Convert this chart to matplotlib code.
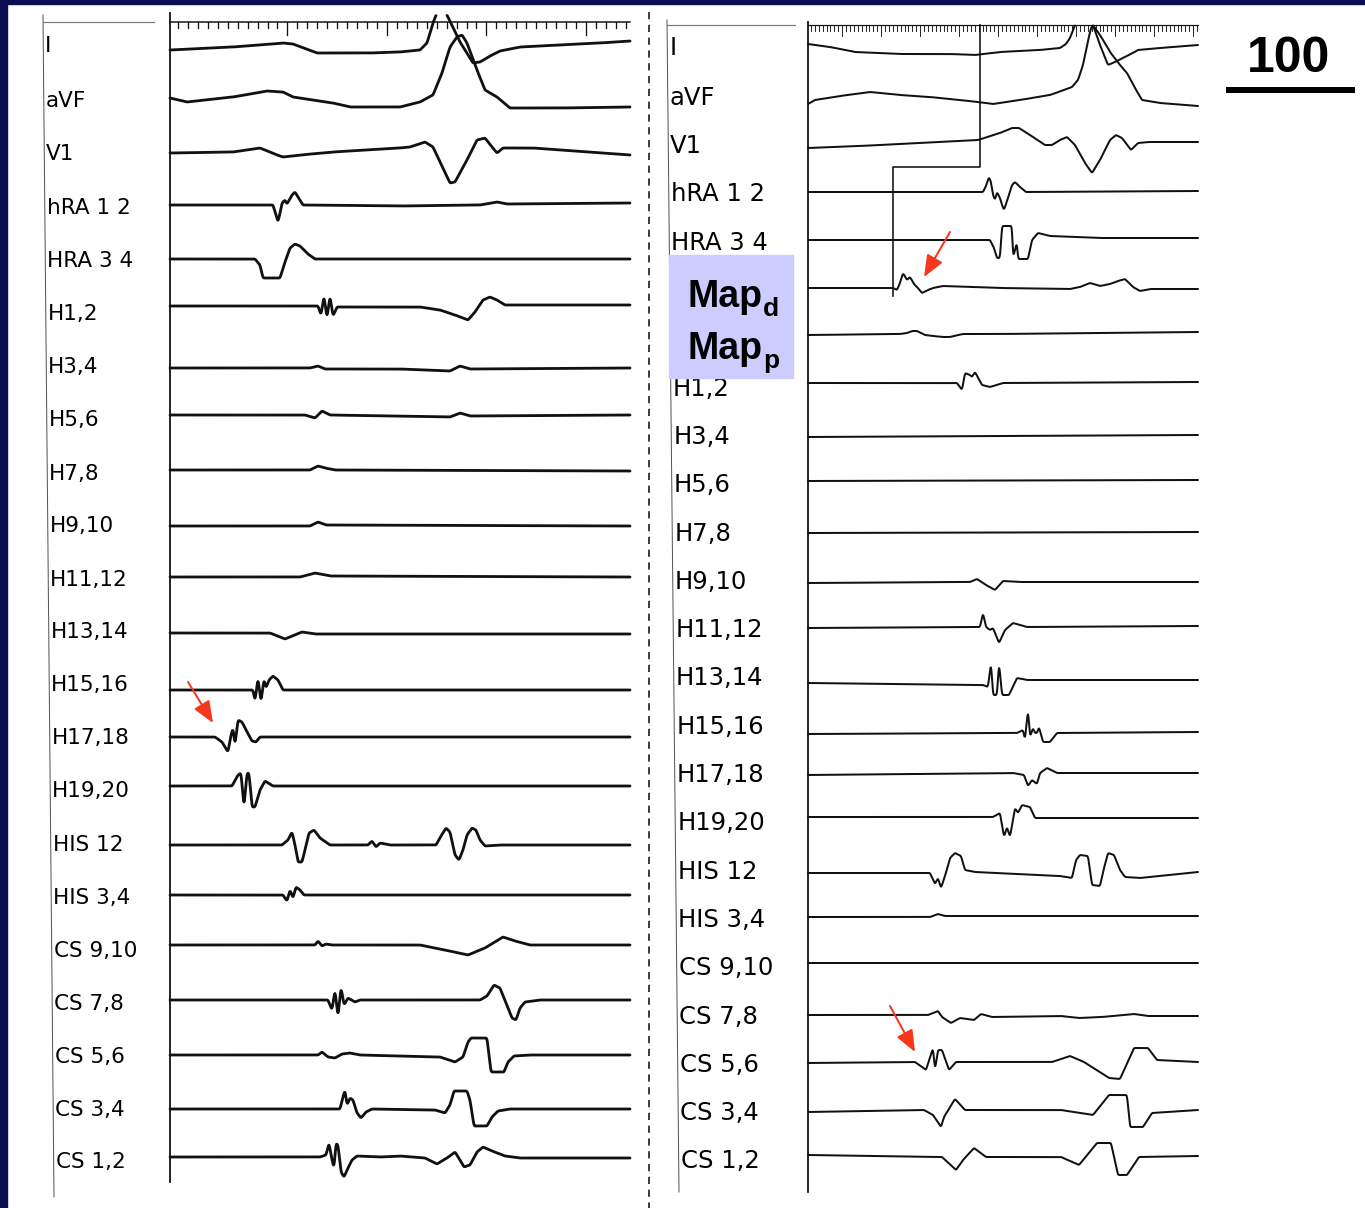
import numpy as np
import matplotlib.pyplot as plt
from matplotlib.patches import Rectangle

# two intracardiac recordings side by side (left: before, right: after)
GAP = (np.nan, np.nan)

leftLabels = ["I", "aVF", "V1", "hRA 1 2", "HRA 3 4", "H1,2", "H3,4", "H5,6", "H7,8", "H9,10",
              "H11,12", "H13,14", "H15,16", "H17,18", "H19,20", "HIS 12", "HIS 3,4",
              "CS 9,10", "CS 7,8", "CS 5,6", "CS 3,4", "CS 1,2"]

L_I = [(0, 0), (63, 3), (113, 7), (123, 6), (147, -3), (200, -3), (230, -2), (250, 0), (257, 7), (263, 27), (266, 35), GAP,
       (277, 35), (290, 8), (303, -13), (310, -12), (320, -6), (330, -1), (350, 3), (390, 5), (430, 7), (460, 9)]
L_aVF = [(0, 2), (17, -2), (63, 3), (97, 9), (113, 8), (123, 3), (163, -3), (180, -7), (230, -7), (250, -2), (263, 5),
         (272, 27), (280, 53), (287, 63), (292, 65), (297, 57), (307, 30), (315, 10), (327, 3), (340, -8), (390, -8), (460, -7)]
L_V1 = [(0, 0), (63, 1), (90, 5), (107, -2), (113, -4), (130, -2), (163, 1), (230, 5), (240, 6), (255, 11), (263, 6),
        (280, -30), (285, -29), (297, -7), (307, 13), (315, 15), (322, 6), (327, 0), (333, 5), (363, 5), (460, -2)]
L_hRA12 = [(103, 0), (106, -10), (108, -17), (110, -8), (112, 2), (115, 5), (117, 1), (122, 10), (125, 13), (128, 8),
           (133, 0), (230, -1), (310, 0), (327, 3), (337, 1), (460, 2)]
L_HRA34 = [(85, 0), (90, -6), (93, -19), (110, -19), (115, -3), (120, 11), (125, 15), (130, 13), (138, 5), (145, 0)]
L_H12 = [(148, -1), (151, -10), (154, 9), (157, -13), (160, 9), (163, -11), (167, -2), (175, -2), (250, -2), (270, -5),
         (285, -10), (298, -15), (305, -7), (313, 5), (320, 8), (327, 5), (335, 0)]
L_H34 = [(140, 0), (148, 2), (155, -1), (230, -1), (280, -3), (290, 2), (300, -1), (460, 0)]
L_H56 = [(135, 0), (145, -3), (152, 4), (160, 0), (280, -2), (290, 2), (300, -1), (460, 0)]
L_H78 = [(140, 0), (148, 4), (155, 2), (165, 0), (460, -1)]
L_H910 = [(140, 0), (148, 4), (156, 1), (460, 0)]
L_H1112 = [(130, 0), (145, 4), (160, 1), (460, 0)]
L_H1314 = [(100, 0), (110, -4), (115, -6), (122, -3), (132, 1), (145, -1)]
L_H1516 = [(83, 0), (85, -11), (88, 12), (91, -12), (94, 11), (96, 2), (99, 10), (103, 14), (108, 10), (113, 0)]
L_H1718 = [(45, 0), (52, -5), (58, -15), (61, 2), (63, 9), (65, -8), (68, 17), (72, 15), (76, 7), (82, -4), (86, -5), (90, 0)]
L_H1920 = [(62, 0), (68, 11), (71, 13), (74, -21), (77, 13), (79, 13), (82, -21), (85, -21), (90, -4), (95, 5), (103, 0)]
L_HIS12 = [(112, 0), (118, 5), (122, 13), (125, 0), (128, -17), (132, -17), (135, -5), (139, 12), (144, 15), (150, 7),
           (160, 0), (198, 0), (202, 4), (206, -2), (210, 2), (220, 0), (266, 0), (271, 9), (276, 17), (280, 13),
           (285, -10), (289, -15), (293, -5), (297, 10), (302, 17), (306, 15), (310, 5), (315, -1), (330, 0)]
L_HIS34 = [(113, 0), (117, -6), (120, 5), (123, -3), (126, 8), (130, 5), (134, 0)]
L_CS910 = [(145, 0), (148, 4), (152, -1), (156, 1), (162, 0), (250, 0), (275, -5), (298, -10), (315, -3), (333, 8),
           (345, 4), (360, 0)]
L_CS78 = [(158, 0), (162, -10), (165, 10), (168, -17), (171, 13), (174, -5), (178, 2), (185, -2), (190, 0), (310, 0),
          (317, 4), (324, 15), (330, 12), (336, -3), (342, -18), (346, -20), (350, -8), (355, -2), (370, 0)]
L_CS56 = [(148, 0), (152, 3), (158, -2), (165, -3), (172, 1), (180, 2), (190, 0), (270, -2), (285, -7), (293, -2),
          (298, 13), (301, 17), (317, 17), (321, -17), (334, -17), (338, -7), (344, -1), (360, 0)]
L_CS34 = [(170, 0), (173, 12), (175, 19), (177, 4), (180, 11), (183, 9), (187, -4), (191, -9), (196, -3), (202, 0),
          (265, -1), (275, -4), (280, 4), (284, 18), (297, 18), (300, 9), (304, -17), (317, -17), (322, -8), (328, -2),
          (340, 0)]
L_CS12 = [(150, 1), (156, 3), (159, 15), (162, -2), (164, -10), (166, 15), (168, 13), (171, -14), (174, -19), (178, -10),
          (182, -2), (187, 2), (210, 1), (230, 2), (255, 0), (267, -6), (277, 0), (285, 6), (290, -2), (294, -9),
          (300, -7), (307, 6), (313, 11), (322, 7), (335, 2), (350, 0)]

leftTraces = [L_I, L_aVF, L_V1, L_hRA12, L_HRA34, L_H12, L_H34, L_H56, L_H78, L_H910, L_H1112, L_H1314,
              L_H1516, L_H1718, L_H1920, L_HIS12, L_HIS34, L_CS910, L_CS78, L_CS56, L_CS34, L_CS12]

rightLabels = ["I", "aVF", "V1", "hRA 1 2", "HRA 3 4", "H1,2", "H3,4", "H5,6", "H7,8", "H9,10",
               "H11,12", "H13,14", "H15,16", "H17,18", "H19,20", "HIS 12", "HIS 3,4",
               "CS 9,10", "CS 7,8", "CS 5,6", "CS 3,4", "CS 1,2"]

R_I = [(0, 6), (22, 3), (47, -2), (92, -4), (142, -4), (167, -5), (192, -2), (232, 0), (252, 2), (258, 6), (262, 12),
       (267, 25), GAP, (285, 25), (292, 5), (300, -15), (307, -12), (317, -7), (330, 0), (352, 2), (390, 5)]
R_aVF = [(0, -4), (7, 0), (32, 4), (62, 8), (92, 5), (122, 3), (152, 0), (170, -2), (185, -4), (212, 0), (242, 5),
         (256, 10), (264, 13), (270, 20), (275, 35), (279, 55), (283, 72), (285, 75), (292, 65), (302, 48), (312, 35),
         (319, 27), (327, 12), (334, 0), (352, -3), (390, -6)]
R_V1 = [(0, -3), (52, -1), (112, 2), (170, 5), (192, 12), (204, 17), (211, 17), (222, 10), (237, 0), (244, 0), (252, 5),
        (259, 8), (267, 0), (277, -18), (284, -28), (292, -15), (302, 5), (308, 10), (314, 7), (323, -5), (330, 2),
        (341, 3), (390, 3)]
R_hRA12 = [(175, -1), (178, 5), (181, 14), (183, 9), (185, -4), (187, -9), (189, -1), (192, -7), (194, -14), (196, -19),
           (200, -7), (204, 6), (207, 9), (212, 4), (218, -1), (390, 0)]
R_HRA34 = [(0, -1), (182, -1), (186, -9), (189, -19), (192, -19), (194, 13), (204, 13), (205, -19), (207, -11),
           (209, -3), (210, -20), (220, -20), (224, -1), (230, 6), (242, 3), (292, 1), (390, 1)]
R_MAPD = [(85, 1), (89, -1), (92, 6), (95, 16), (99, 9), (102, 12), (106, 5), (109, 2), (114, -4), (120, -1), (125, 1),
          (135, 3), (192, 1), (262, 0), (272, 2), (282, 6), (292, 3), (302, 5), (310, 8), (317, 10), (325, 2),
          (332, -2), (342, 0)]
R_MAPP = [(0, -1), (92, 0), (99, 1), (104, 3), (109, 3), (117, -1), (125, -2), (135, -3), (142, -3), (150, -1),
          (155, 0), (192, 0), (390, 2)]
R_H12 = [(149, 0), (154, -7), (157, 10), (162, 8), (164, 6), (167, 11), (174, -2), (182, -4), (195, 0), (390, 1)]
R_H34 = [(0, -1), (390, 1)]
R_H56 = [(0, 0), (390, 1)]
R_H78 = [(0, -1), (390, 0)]
R_H910 = [(0, -1), (162, 0), (169, 3), (178, -3), (187, -8), (195, 1), (212, 0), (390, 0)]
R_H1112 = [(0, -1), (172, 0), (175, 14), (178, 0), (182, -3), (185, -1), (189, -11), (191, -16), (197, -3), (205, 4),
           (219, 0), (390, 1)]
R_H1314 = [(0, -2), (175, -4), (180, -6), (183, 19), (185, -14), (189, -14), (191, 19), (194, -14), (201, -14),
           (209, 3), (219, 1), (390, 1)]
R_H1516 = [(0, -1), (209, 0), (215, 3), (217, -7), (220, 24), (222, -4), (225, 5), (227, 0), (229, 0), (231, 6),
           (235, -9), (242, -9), (249, 0), (390, 1)]
R_H1718 = [(0, -1), (205, 1), (216, -1), (220, -12), (224, -6), (229, -10), (232, 1), (239, 6), (249, 1), (390, 1)]
R_H1920 = [(185, 0), (192, 4), (196, -20), (199, -10), (202, -20), (207, 9), (210, 4), (214, 12), (222, 10), (227, -1)]
R_HIS12 = [(122, 0), (127, -11), (130, -5), (133, -15), (137, -3), (142, 15), (147, 20), (153, 17), (157, 3), (167, 1),
           (252, -3), (264, -5), (268, 13), (272, 18), (280, 17), (284, -12), (292, -13), (296, 5), (300, 20), (306, 18),
           (312, 3), (317, -4), (332, -5), (390, 1)]
R_HIS34 = [(122, 0), (130, 3), (137, 1), (390, 1)]
R_CS910 = [(0, 0), (390, 0)]
R_CS78 = [(120, 1), (130, 5), (134, -1), (143, -7), (152, -2), (166, -4), (173, 2), (184, -1), (253, 0), (271, -2),
          (294, -1), (326, 2), (340, 0)]
R_CS56 = [(0, -1), (107, 0), (118, -8), (125, 14), (127, -8), (130, 12), (134, 12), (141, -8), (148, 0), (244, 0),
          (262, 6), (276, 0), (301, -16), (312, -17), (326, 14), (340, 14), (349, 2), (390, 0)]
R_CS34 = [(0, -1), (116, 1), (125, -4), (133, -16), (136, -6), (147, 12), (157, 1), (253, 1), (285, -4), (301, 16),
          (319, 16), (322, -16), (335, -16), (344, -2), (390, 1)]
R_CS12 = [(0, 1), (134, -1), (148, -14), (155, -4), (166, 8), (178, -1), (253, -1), (271, -9), (289, 13), (303, 13),
          (310, -19), (319, -19), (331, -1), (390, 0)]

rightTraces = [R_I, R_aVF, R_V1, R_hRA12, R_HRA34, R_MAPD, R_MAPP, R_H12, R_H34, R_H56, R_H78, R_H910, R_H1112,
               R_H1314, R_H1516, R_H1718, R_H1920, R_HIS12, R_HIS34, R_CS910, R_CS78, R_CS56, R_CS34, R_CS12]

mapLabels = ["d", "p"]
cycleLength = "100"

# ---- layout (figure pixels) ----
W, H = 1365, 1208
PX = 72.0 / 100  # points per pixel at dpi 100

leftX0, leftTEnd = 170, 460
leftBase = [50, 100, 153, 205, 259, 305, 368, 415, 470, 526, 577, 633, 690, 737, 786, 845, 895, 945, 1000,
            1055, 1109, 1158]
leftLabelY = [46, 101, 154, 208, 261, 314, 367, 420, 474, 526, 580, 632, 685, 738, 791, 845, 898, 951, 1004,
              1057, 1110, 1162]

rightX0, rightTEnd = 808, 390
rightBase = [50, 100, 145, 191, 239, 289, 334, 383, 436, 481, 532, 582, 627, 681, 733, 774, 817, 873, 917, 963,
             1016, 1062, 1111, 1156]
rightLabelY = [48, 98, 146, 194, 243, 389, 437, 485, 534, 582, 630, 678, 727, 775, 823, 872, 920, 968, 1017,
               1065, 1113, 1161]

navy = "#0c0c50"
ink = "#111111"
arrowRed = "#f5371c"


def smoothSegment(t, a, sigma):
    # resample on a fine grid and round off the corners a little, like a pen trace
    if len(t) < 2:
        return t, a
    step = 0.5
    tf = np.arange(t[0], t[-1] + step / 2, step)
    af = np.interp(tf, t, a)
    half = int(3 * sigma / step)
    k = np.exp(-0.5 * (np.arange(-half, half + 1) * step / sigma) ** 2)
    k /= k.sum()
    padded = np.r_[np.full(half, af[0]), af, np.full(half, af[-1])]
    return tf, np.convolve(padded, k, mode="valid")


def drawTrace(ax, pts, x0, base, tEnd, lw, sigma):
    # pad the waveform with flat baseline out to both edges of the paper
    t = np.array([p[0] for p in pts], dtype=float)
    a = np.array([p[1] for p in pts], dtype=float)
    if t[0] > 0:
        t = np.r_[0, t]
        a = np.r_[a[0], a]
    if t[-1] < tEnd:
        t = np.r_[t, tEnd]
        a = np.r_[a, a[-1]]
    # split at gaps (trace running off the paper)
    breaks = np.where(np.isnan(t))[0]
    starts = np.r_[0, breaks + 1]
    ends = np.r_[breaks, len(t)]
    for s, e in zip(starts, ends):
        ts, as_ = smoothSegment(t[s:e], a[s:e], sigma)
        ax.plot(x0 + ts, base - as_, color=ink, lw=lw, solid_joinstyle="round", solid_capstyle="round")


def labelColumnX(y, xTop, xBottom, yTop, yBottom):
    # the scanned label column leans slightly to the right
    return xTop + (xBottom - xTop) * (y - yTop) / (yBottom - yTop)


fig = plt.figure(figsize=(W / 100, H / 100), dpi=100)
ax = fig.add_axes([0, 0, 1, 1])
ax.set_xlim(0, W)
ax.set_ylim(H, 0)
ax.axis("off")

# navy slide frame
ax.add_patch(Rectangle((0, 0), W, 4, color=navy, zorder=5))
ax.add_patch(Rectangle((0, 0), 7, H, color=navy, zorder=5))

# ---- left recording ----
ax.plot([43, 54], [15, 1197], color="#555555", lw=1.0 * PX)
ax.plot([43, 154], [22, 22], color="#777777", lw=1.2 * PX)
ax.plot([170, 170], [13, 1182], color=ink, lw=1.8 * PX)
ax.plot([170, 630], [22, 22], color=ink, lw=1.5 * PX)
ticks = np.arange(178, 631, 9.95)
for i, tx in enumerate(ticks):
    tickLen = 13 if (i % 10 == 1 and i > 1) else 6
    ax.plot([tx, tx], [22, 22 + tickLen], color=ink, lw=1.3 * PX)

for label, ly in zip(leftLabels, leftLabelY):
    lx = labelColumnX(ly, 43, 54, 15, 1197) + 2
    ax.text(lx, ly, label, fontsize=15.5, family="DejaVu Sans", ha="left", va="center", color="black")

for pts, base in zip(leftTraces, leftBase):
    drawTrace(ax, pts, leftX0, base, leftTEnd, 2.8 * PX, 0.6)

# ---- dashed separator ----
ax.plot([649, 649], [12, H], color=ink, lw=1.6 * PX, linestyle=(0, (4.5, 3.5)))

# ---- right recording ----
ax.plot([667, 679], [20, 1192], color="#555555", lw=1.0 * PX)
ax.plot([667, 795], [25, 25], color="#777777", lw=1.2 * PX)
ax.plot([808, 808], [22, 1192], color=ink, lw=1.8 * PX)
ax.plot([808, 1198], [25, 25], color=ink, lw=1.2 * PX)
ticks = np.arange(811, 1198, 3.9)
for i, tx in enumerate(ticks):
    tickLen = 11 if i % 10 == 8 else 6
    ax.plot([tx, tx], [25, 25 + tickLen], color=ink, lw=0.9 * PX)

for label, ly in zip(rightLabels, rightLabelY):
    lx = labelColumnX(ly, 667, 679, 20, 1192) + 2
    ax.text(lx, ly, label, fontsize=17.5, family="DejaVu Sans", ha="left", va="center", color="black")

for pts, base in zip(rightTraces, rightBase):
    drawTrace(ax, pts, rightX0, base, rightTEnd, 2.0 * PX, 0.6)

# timing marker linking the atrial electrogram to the mapping catheter
ax.plot([980, 980, 893, 893], [25, 167, 167, 296], color=ink, lw=1.6 * PX)

# mapping catheter label box, subscript placed right after the measured "Map"
ax.add_patch(Rectangle((669, 255), 124, 123, color="#ccccff", zorder=3))
fig.canvas.draw()
renderer = fig.canvas.get_renderer()
for sub, baseY in zip(mapLabels, [307, 359]):
    mainTxt = ax.text(687, baseY, "Map", fontsize=27, fontweight="bold", family="Liberation Sans",
                      ha="left", va="baseline", zorder=4)
    bb = mainTxt.get_window_extent(renderer=renderer)
    rightEdge = ax.transData.inverted().transform((bb.x1, bb.y0))[0]
    ax.text(rightEdge + 1, baseY + 9, sub, fontsize=19, fontweight="bold", family="Liberation Sans",
            ha="left", va="baseline", zorder=4)

# cycle length
ax.text(1289, 72, cycleLength, fontsize=36, fontweight="bold", family="Liberation Sans", ha="center",
        va="baseline")
ax.plot([1226, 1355], [90, 90], color="black", lw=6 * PX, solid_capstyle="butt")

# red arrows pointing at the earliest activation
for tail, tip in [((188, 682), (213, 723)), ((950, 232), (924, 277)), ((890, 1006), (915, 1052))]:
    ax.annotate("", xy=tip, xytext=tail,
                arrowprops=dict(arrowstyle="-|>,head_length=1.1,head_width=0.45", color=arrowRed,
                                lw=2.0 * PX, mutation_scale=12, shrinkA=0, shrinkB=0))

fig.savefig("out.png", dpi=100)
